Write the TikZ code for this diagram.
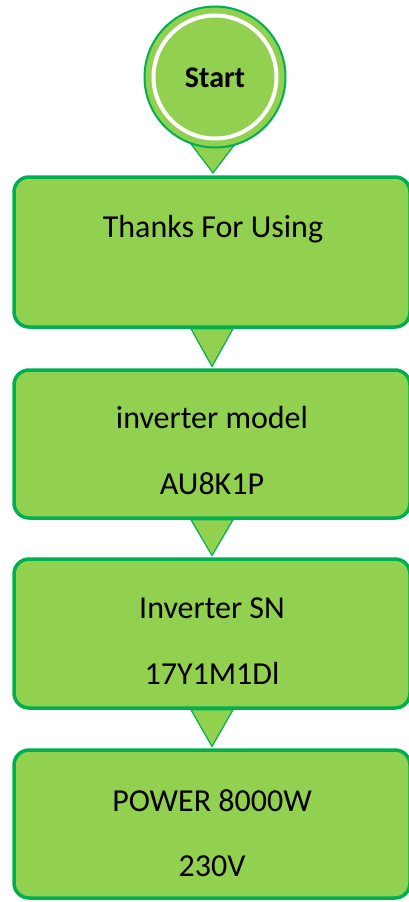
\documentclass[tikz,border=0pt]{standalone}
\usepackage{fontspec}
\setmainfont{Carlito}
\definecolor{leafgreen}{HTML}{92D050}
\definecolor{edgegreen}{HTML}{00B050}

\begin{document}
\begin{tikzpicture}[x=1pt,y=-1pt]
\tikzstyle{panel} = [shape = rectangle, rounded corners = 15pt, draw = edgegreen, fill = leafgreen, line width = 3.5pt, minimum width = 396pt, inner sep = 0pt]
\tikzstyle{pointer} = [draw = edgegreen, fill = leafgreen, line width = 1.2pt, line join = miter]
\tikzstyle{caption} = [anchor = base, inner sep = 0pt, font = \fontsize{32}{38}\selectfont]

\useasboundingbox (0,0) rectangle (409,902);

% start bubble
\draw[pointer] (188,140) -- (238,140) -- (213,173) -- cycle;
\node[circle, draw = edgegreen, fill = leafgreen, line width = 2pt, minimum size = 141pt, inner sep = 0pt] (start) at (215,77) {};
\draw[white, line width = 4pt] (start.center) circle (61.5);
\node[font = \fontsize{30}{36}\selectfont\bfseries] (starttext) at (215,78) {Start};

% boxes
\node[panel, minimum height = 150pt] (thanks) at (212,252) {};
\node[panel, minimum height = 148pt] (model) at (212,444) {};
\node[panel, minimum height = 149pt] (serial) at (212,633.5) {};
\node[panel, minimum height = 148pt] (power) at (212,824) {};

% pointers between boxes
\draw[pointer] ([xshift=-21pt]thanks.south) -- ([xshift=21pt]thanks.south) -- ([yshift=1.75pt]model.north) -- cycle;
\draw[pointer] ([xshift=-21pt]model.south) -- ([xshift=21pt]model.south) -- ([yshift=1.75pt]serial.north) -- cycle;
\draw[pointer] ([xshift=-21pt]serial.south) -- ([xshift=21pt]serial.south) -- ([yshift=1.75pt]power.north) -- cycle;

% texts
\node[caption] (thankstext) at (213,237) {Thanks For Using};
\node[caption] (modeltext) at (212,428) {inverter model};
\node[caption] (modelcode) at (212,494) {AU8K1P};
\node[caption] (serialtext) at (212,618) {Inverter SN};
\node[caption] (serialcode) at (212,684) {17Y1M1Dl};
\node[caption] (powertext) at (212,811) {POWER 8000W};
\node[caption] (powervolt) at (212,876) {230V};

\end{tikzpicture}
\end{document}
